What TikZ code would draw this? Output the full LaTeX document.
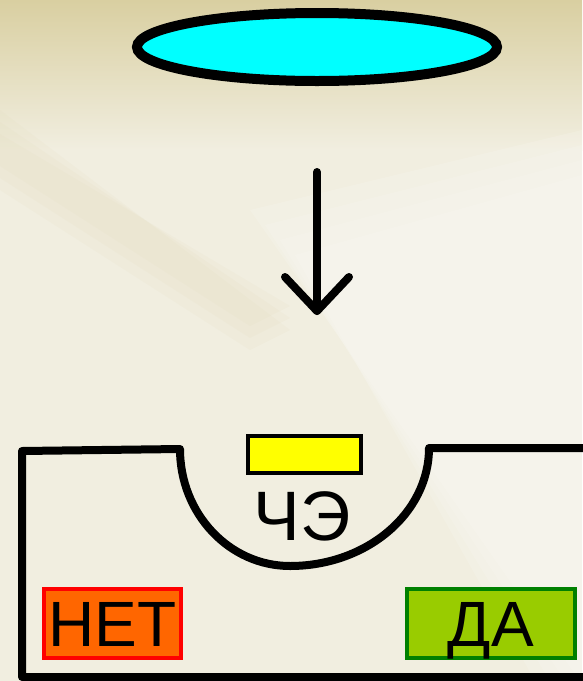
\documentclass[tikz,border=0pt]{standalone}
\usepackage{fontspec}
\setmainfont{Liberation Sans}
\usetikzlibrary{shapes.geometric}
\definecolor{bgbase}{HTML}{F1EEE0}
\definecolor{bgtan}{HTML}{D9CFA1}
\definecolor{bgstreak}{HTML}{E2DAB8}
\definecolor{bglight}{HTML}{FCFBF7}
\definecolor{lenscyan}{HTML}{00FFFF}
\definecolor{elemyellow}{HTML}{FFFF00}
\definecolor{noorange}{HTML}{FF6600}
\definecolor{nored}{HTML}{FF0000}
\definecolor{yesgreen}{HTML}{99CC00}
\definecolor{yesborder}{HTML}{008000}
\begin{document}
\begin{tikzpicture}[x=1pt,y=-1pt,
  outline/.style={line width=8pt, line join=round, line cap=round},
  arrowline/.style={line width=8pt, line cap=round, line join=round},
  lens/.style={ellipse, draw=black, fill=lenscyan, line width=10pt,
    minimum width=360pt, minimum height=68pt, inner sep=0pt},
  elem/.style={draw=black, fill=elemyellow, line width=4pt,
    minimum width=113pt, minimum height=37pt, inner sep=0pt},
  answer/.style={line width=4pt, minimum height=69pt, inner sep=0pt,
    font=\fontsize{64pt}{70pt}\selectfont, text height=46pt, text depth=0pt},
  elemlabel/.style={font=\fontsize{70pt}{80pt}\selectfont, inner sep=0pt, anchor=base}
]
\useasboundingbox (0,0) rectangle (582,681);
% background
\fill[bgbase] (0,0) rectangle (582,681);
\shade[top color=bgtan, bottom color=bgbase] (0,0) rectangle (582,150);
\foreach \d in {0,12,24}{
  \fill[bgstreak, opacity=0.12] (0,110+\d) -- (0,190-\d) -- (250,350-\d) -- (290,330-\d) -- cycle;
}
\foreach \d in {0,15,30,45}{
  \fill[bglight, opacity=0.18] (250+\d,210+\d) -- (582,130+\d) -- (582,681) -- (580-\d,681) -- cycle;
}

% lens
\node[lens] (lensnode) at (317,47) {};

% arrow
\coordinate (arrtop) at (317,172);
\coordinate (arrtip) at (317,311);
\draw[arrowline] (arrtop) -- (arrtip);
\draw[arrowline] ([shift={(-32,-34)}]arrtip) -- (arrtip) -- ([shift={(32,-34)}]arrtip);

% housing outline
\draw[outline] (592,677) -- (22,677) -- (22,451) -- (180,449)
  arc[start angle=180, end angle=90, x radius=110, y radius=117]
  arc[start angle=90, end angle=0, x radius=139, y radius=118]
  -- (592,448);

% sensitive element
\node[elem] (element) at (304.5,454.5) {};
\node[elemlabel] (elemtext) at (302,540) {ЧЭ};

% answers
\node[answer, draw=nored, fill=noorange, minimum width=137pt] (no) at (112.5,623.5) {НЕТ};
\node[answer, draw=yesborder, fill=yesgreen, minimum width=168pt] (yes) at (491,623.5) {ДА};
\end{tikzpicture}
\end{document}
